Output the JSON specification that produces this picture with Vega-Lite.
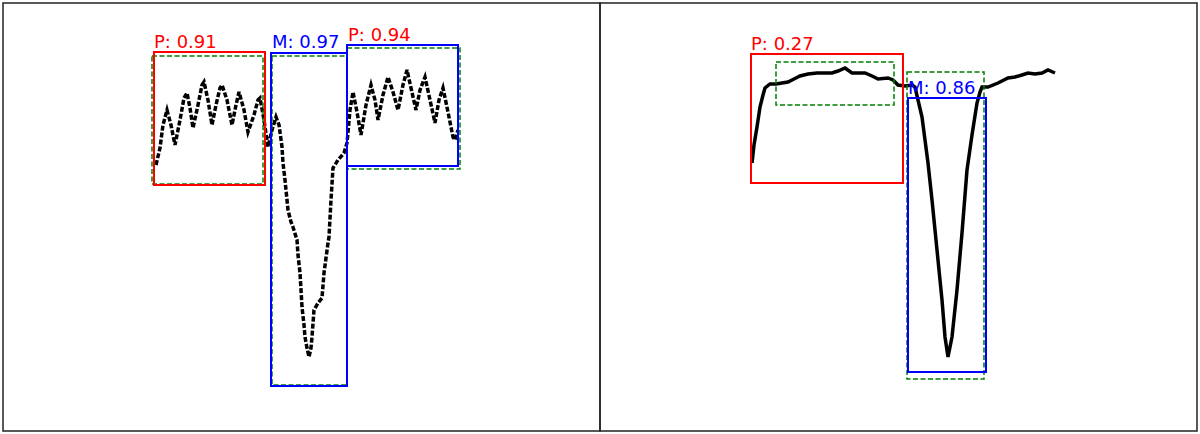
{
  "$schema": "https://vega.github.io/schema/vega-lite/v6.json",
  "padding": {"left": 2, "top": 2, "right": 4, "bottom": 4},
  "bounds": "flush",
  "spacing": 0,
  "background": "white",
  "config": {"view": {"stroke": "#222222", "strokeWidth": 1.5}},
  "datasets": {
    "curveL": [
      {"x":156,"y":165},{"x":160,"y":148},{"x":163,"y":125},{"x":167,"y":110},{"x":171,"y":125},{"x":175,"y":145},{"x":180,"y":120},{"x":184,"y":98},{"x":187,"y":93},{"x":190,"y":108},{"x":193,"y":128},{"x":198,"y":105},{"x":202,"y":85},{"x":204,"y":82},{"x":208,"y":100},{"x":212,"y":125},{"x":216,"y":105},{"x":220,"y":88},{"x":222,"y":85},{"x":227,"y":100},{"x":232,"y":125},{"x":236,"y":105},{"x":239,"y":92},{"x":244,"y":110},{"x":248,"y":132},{"x":254,"y":115},{"x":258,"y":100},{"x":260,"y":98},{"x":264,"y":120},{"x":268,"y":147},{"x":272,"y":130},{"x":276,"y":117},{"x":279,"y":125},{"x":282,"y":147},{"x":283,"y":163},{"x":285,"y":180},{"x":287,"y":200},{"x":288,"y":210},{"x":291,"y":222},{"x":293,"y":227},{"x":297,"y":240},{"x":298,"y":255},{"x":300,"y":273},{"x":302,"y":307},{"x":304,"y":325},{"x":305,"y":337},{"x":307,"y":348},{"x":309,"y":357},{"x":311,"y":348},{"x":312,"y":337},{"x":314,"y":310},{"x":318,"y":303},{"x":322,"y":298},{"x":324,"y":273},{"x":326,"y":258},{"x":328,"y":243},{"x":329,"y":237},{"x":331,"y":200},{"x":333,"y":168},{"x":338,"y":160},{"x":344,"y":153},{"x":347,"y":143},{"x":350,"y":110},{"x":353,"y":92},{"x":357,"y":112},{"x":361,"y":135},{"x":366,"y":105},{"x":371,"y":85},{"x":375,"y":100},{"x":378,"y":120},{"x":383,"y":95},{"x":388,"y":77},{"x":393,"y":92},{"x":398,"y":110},{"x":403,"y":85},{"x":407,"y":70},{"x":411,"y":88},{"x":416,"y":110},{"x":420,"y":90},{"x":425,"y":77},{"x":430,"y":100},{"x":435,"y":123},{"x":439,"y":100},{"x":443,"y":88},{"x":448,"y":112},{"x":453,"y":137},{"x":455,"y":140},{"x":458,"y":130}
    ],
    "curveR": [
      {"x":752,"y":163},{"x":754,"y":145},{"x":757,"y":127},{"x":760,"y":107},{"x":763,"y":95},{"x":765,"y":88},{"x":770,"y":84},{"x":776,"y":84},{"x":782,"y":83},{"x":788,"y":82},{"x":794,"y":79},{"x":800,"y":76},{"x":808,"y":74},{"x":817,"y":73},{"x":825,"y":73},{"x":832,"y":73},{"x":838,"y":71},{"x":845,"y":68},{"x":852,"y":73},{"x":858,"y":73},{"x":865,"y":73},{"x":872,"y":76},{"x":878,"y":79},{"x":888,"y":78},{"x":893,"y":80},{"x":898,"y":85},{"x":905,"y":86},{"x":912,"y":85},{"x":915,"y":87},{"x":918,"y":100},{"x":922,"y":117},{"x":925,"y":140},{"x":928,"y":163},{"x":932,"y":200},{"x":937,"y":250},{"x":942,"y":300},{"x":945,"y":337},{"x":948,"y":357},{"x":952,"y":337},{"x":957,"y":290},{"x":962,"y":233},{"x":967,"y":170},{"x":972,"y":135},{"x":977,"y":103},{"x":980,"y":92},{"x":982,"y":87},{"x":988,"y":87},{"x":998,"y":83},{"x":1008,"y":78},{"x":1015,"y":77},{"x":1022,"y":75},{"x":1028,"y":73},{"x":1035,"y":74},{"x":1042,"y":73},{"x":1048,"y":70},{"x":1055,"y":73}
    ],
    "boxes": [
      {"panel":"L","cls":"GT","x":152,"x2":263,"y":56,"y2":184},
      {"panel":"L","cls":"GT","x":272,"x2":347,"y":56,"y2":385},
      {"panel":"L","cls":"GT","x":347,"x2":460,"y":48,"y2":169},
      {"panel":"L","cls":"P","x":154,"x2":265,"y":52,"y2":185},
      {"panel":"L","cls":"M","x":271,"x2":347,"y":53,"y2":386},
      {"panel":"L","cls":"M","x":347,"x2":458,"y":45,"y2":166},
      {"panel":"R","cls":"GT","x":776,"x2":894,"y":62,"y2":105},
      {"panel":"R","cls":"GT","x":907,"x2":984,"y":72,"y2":379},
      {"panel":"R","cls":"P","x":751,"x2":903,"y":54,"y2":183},
      {"panel":"R","cls":"M","x":908,"x2":986,"y":98,"y2":372}
    ],
    "labels": [
      {"panel":"L","cls":"P","x":154,"y":48,"text":"P: 0.91"},
      {"panel":"L","cls":"M","x":272,"y":48,"text":"M: 0.97"},
      {"panel":"L","cls":"P","x":348,"y":41,"text":"P: 0.94"},
      {"panel":"R","cls":"P","x":751,"y":50,"text":"P: 0.27"},
      {"panel":"R","cls":"M","x":908,"y":94,"text":"M: 0.86"}
    ]
  },
  "hconcat": [
    {
      "width": 597,
      "height": 428,
      "layer": [
        {
          "data": {"name": "curveL"},
          "mark": {"type": "line", "color": "black", "strokeWidth": 3.5, "strokeDash": [5, 2]},
          "encoding": {
            "x": {"field": "x", "type": "quantitative", "scale": {"domain": [3, 600], "nice": false, "zero": false}, "axis": null},
            "y": {"field": "y", "type": "quantitative", "scale": {"domain": [431, 3], "nice": false, "zero": false}, "axis": null}
          }
        },
        {
          "data": {"name": "boxes"},
          "transform": [{"filter": "datum.panel === 'L' && datum.cls === 'GT'"}],
          "mark": {"type": "rect", "fillOpacity": 0, "stroke": "#008000", "strokeWidth": 1.5, "strokeDash": [5, 2.5]},
          "encoding": {
            "x": {"field": "x", "type": "quantitative"},
            "x2": {"field": "x2"},
            "y": {"field": "y", "type": "quantitative"},
            "y2": {"field": "y2"}
          }
        },
        {
          "data": {"name": "boxes"},
          "transform": [{"filter": "datum.panel === 'L' && datum.cls !== 'GT'"}],
          "mark": {"type": "rect", "fillOpacity": 0, "strokeWidth": 2},
          "encoding": {
            "x": {"field": "x", "type": "quantitative"},
            "x2": {"field": "x2"},
            "y": {"field": "y", "type": "quantitative"},
            "y2": {"field": "y2"},
            "stroke": {"field": "cls", "type": "nominal", "scale": {"domain": ["P", "M"], "range": ["#ff0000", "#0000ff"]}, "legend": null}
          }
        },
        {
          "data": {"name": "labels"},
          "transform": [{"filter": "datum.panel === 'L'"}],
          "mark": {"type": "text", "font": "DejaVu Sans", "fontSize": 18, "align": "left", "baseline": "alphabetic"},
          "encoding": {
            "x": {"field": "x", "type": "quantitative"},
            "y": {"field": "y", "type": "quantitative"},
            "text": {"field": "text"},
            "color": {"field": "cls", "type": "nominal", "scale": {"domain": ["P", "M"], "range": ["#ff0000", "#0000ff"]}, "legend": null}
          }
        }
      ]
    },
    {
      "width": 597,
      "height": 428,
      "layer": [
        {
          "data": {"name": "curveR"},
          "mark": {"type": "line", "color": "black", "strokeWidth": 3.5},
          "encoding": {
            "x": {"field": "x", "type": "quantitative", "scale": {"domain": [600, 1197], "nice": false, "zero": false}, "axis": null},
            "y": {"field": "y", "type": "quantitative", "scale": {"domain": [431, 3], "nice": false, "zero": false}, "axis": null}
          }
        },
        {
          "data": {"name": "boxes"},
          "transform": [{"filter": "datum.panel === 'R' && datum.cls === 'GT'"}],
          "mark": {"type": "rect", "fillOpacity": 0, "stroke": "#008000", "strokeWidth": 1.5, "strokeDash": [5, 2.5]},
          "encoding": {
            "x": {"field": "x", "type": "quantitative"},
            "x2": {"field": "x2"},
            "y": {"field": "y", "type": "quantitative"},
            "y2": {"field": "y2"}
          }
        },
        {
          "data": {"name": "boxes"},
          "transform": [{"filter": "datum.panel === 'R' && datum.cls !== 'GT'"}],
          "mark": {"type": "rect", "fillOpacity": 0, "strokeWidth": 2},
          "encoding": {
            "x": {"field": "x", "type": "quantitative"},
            "x2": {"field": "x2"},
            "y": {"field": "y", "type": "quantitative"},
            "y2": {"field": "y2"},
            "stroke": {"field": "cls", "type": "nominal", "scale": {"domain": ["P", "M"], "range": ["#ff0000", "#0000ff"]}, "legend": null}
          }
        },
        {
          "data": {"name": "labels"},
          "transform": [{"filter": "datum.panel === 'R'"}],
          "mark": {"type": "text", "font": "DejaVu Sans", "fontSize": 18, "align": "left", "baseline": "alphabetic"},
          "encoding": {
            "x": {"field": "x", "type": "quantitative"},
            "y": {"field": "y", "type": "quantitative"},
            "text": {"field": "text"},
            "color": {"field": "cls", "type": "nominal", "scale": {"domain": ["P", "M"], "range": ["#ff0000", "#0000ff"]}, "legend": null}
          }
        }
      ]
    }
  ]
}
